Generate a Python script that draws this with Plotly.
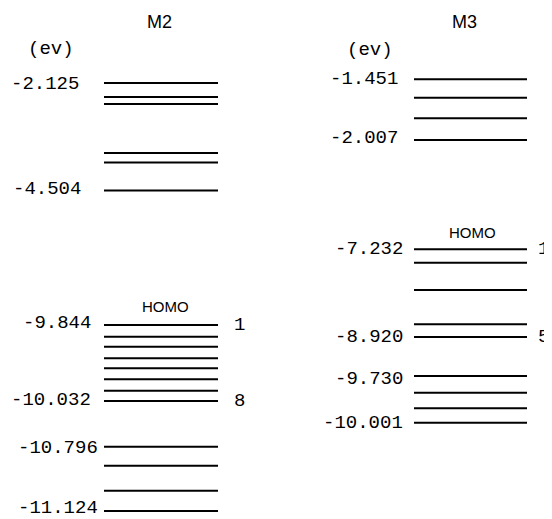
import plotly.graph_objects as go

# ---- data (schematic energy-level diagram; positions are diagram depth units) ----
panels = ["M2", "M3"]
unit_label = "(ev)"

m2_level_pos = [83, 97, 104, 153, 162.5, 190.5,
                325, 336.7, 346.7, 358.3, 368.3, 379.3, 390.7, 401,
                446.7, 465.7, 490.7, 511]
m2_labels = ["-2.125", "-4.504", "-9.844", "-10.032", "-10.796", "-11.124"]
m2_label_level = [0, 5, 6, 13, 14, 17]
m2_index_text = ["1", "8"]
m2_index_level = [6, 13]
m2_homo_level = 6

m3_level_pos = [79.3, 97.7, 118.3, 140,
                249.3, 262.7, 290, 324.3, 337, 376, 392.7, 408.3, 422.7]
m3_labels = ["-1.451", "-2.007", "-7.232", "-8.920", "-9.730", "-10.001"]
m3_label_level = [0, 3, 4, 8, 9, 12]
m3_index_text = ["1", "5"]
m3_index_level = [4, 8]
m3_homo_level = 4

# ---- styling / layout ----
W, H = 552, 519
PAGE_MARGIN = 8  # default body margin of the html page
mono = "Liberation Mono, DejaVu Sans Mono, monospace"
sans = "Liberation Sans, Arial, sans-serif"
m2_x = (104, 218)
m3_x = (414, 527)
m2_label_right = [81, 83, 93, 93, 100, 100]
m2_label_dy = [1, -2, -2, -1, 1, -3]
m3_label_right = [400, 400, 405, 405, 405, 405]
m3_label_dy = [0, -2, 0, 0, 3, 0]

fig = go.Figure()

def add_levels(levels, xr):
    xs, ys = [], []
    for y in levels:
        xs += [xr[0], xr[1], None]
        ys += [y, y, None]
    fig.add_trace(go.Scatter(x=xs, y=ys, mode="lines",
                             line=dict(color="black", width=2),
                             hoverinfo="skip", showlegend=False))

add_levels(m2_level_pos, m2_x)
add_levels(m3_level_pos, m3_x)

ann = []
def text(x, y, s, font, size, xanchor="center"):
    ann.append(dict(x=x, y=y, xref="x", yref="y", text=s, showarrow=False,
                    xanchor=xanchor, yanchor="middle",
                    font=dict(family=font, size=size, color="black")))

# titles
text(159, 22, panels[0], sans, 18)
text(464, 22, panels[1], sans, 18)
text(51, 49, unit_label, mono, 19)
text(370, 50, unit_label, mono, 19)

# energy labels
for s, lv, xr, dy in zip(m2_labels, m2_label_level, m2_label_right, m2_label_dy):
    text(xr, m2_level_pos[lv] + dy, s, mono, 19, "right")
for s, lv, xr, dy in zip(m3_labels, m3_label_level, m3_label_right, m3_label_dy):
    text(xr, m3_level_pos[lv] + dy, s, mono, 19, "right")

# index numbers
for s, lv in zip(m2_index_text, m2_index_level):
    text(232, m2_level_pos[lv], s, mono, 19, "left")
for s, lv in zip(m3_index_text, m3_index_level):
    text(536, m3_level_pos[lv], s, mono, 19, "left")

# HOMO labels
text(165, m2_level_pos[m2_homo_level] - 19, "HOMO", sans, 15)
text(472, m3_level_pos[m3_homo_level] - 17, "HOMO", sans, 15)

fig.update_layout(
    width=W - PAGE_MARGIN, height=H - PAGE_MARGIN,
    margin=dict(l=0, r=0, t=0, b=0),
    paper_bgcolor="white", plot_bgcolor="white",
    xaxis=dict(range=[PAGE_MARGIN, W], visible=False, fixedrange=True),
    yaxis=dict(range=[H, PAGE_MARGIN], visible=False, fixedrange=True),
    annotations=ann,
    showlegend=False,
)

fig.write_html("out.html")
